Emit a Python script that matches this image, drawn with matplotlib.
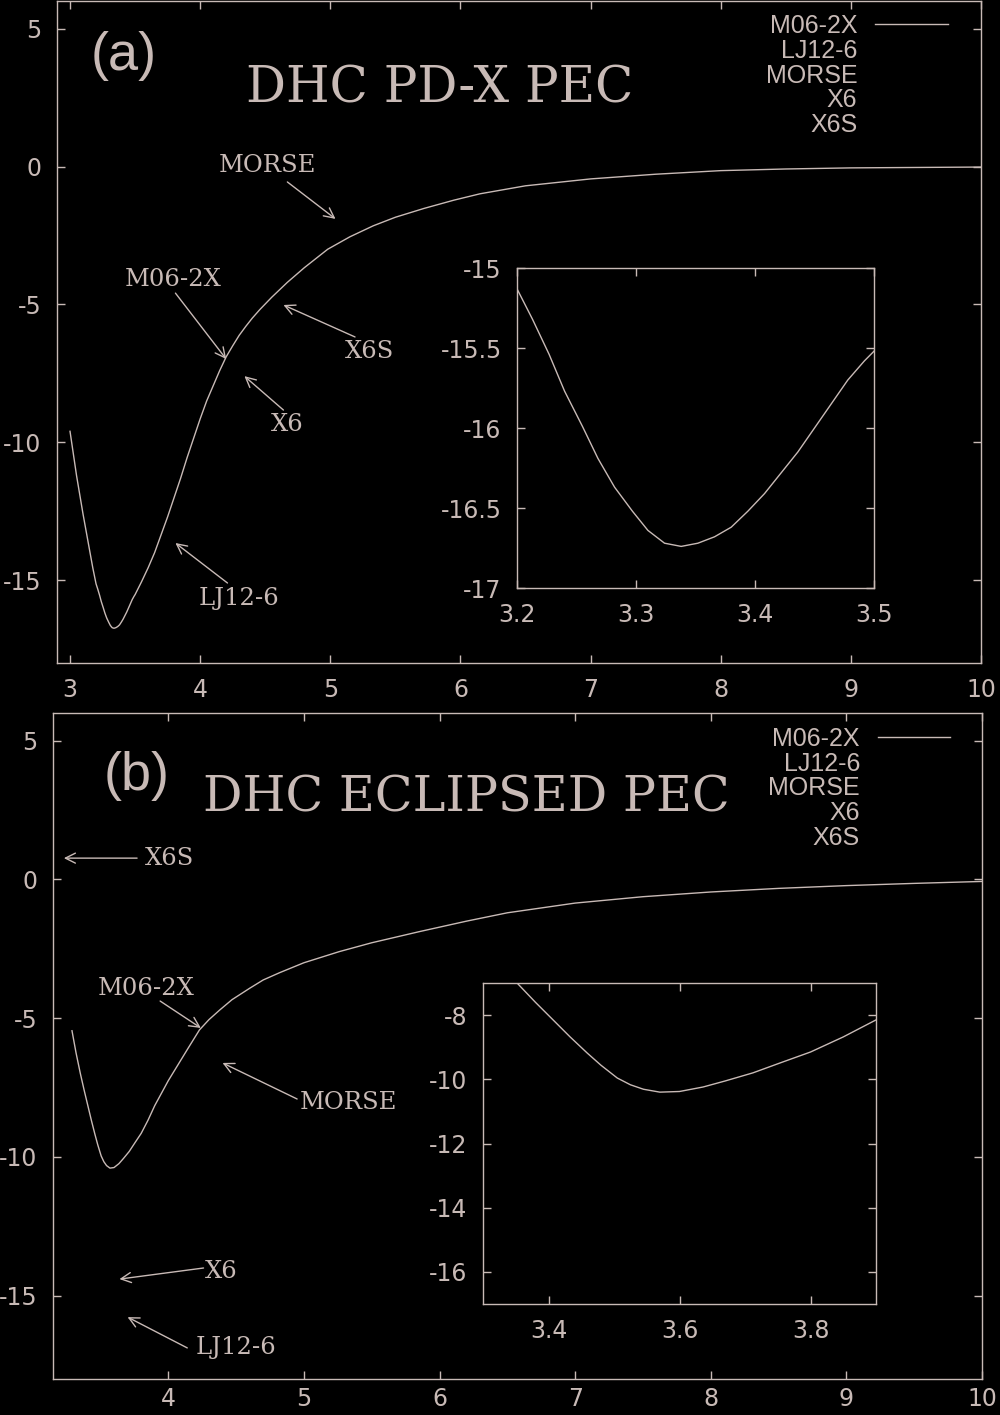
import numpy as np
import matplotlib
matplotlib.use('Agg')
import matplotlib.pyplot as plt
from matplotlib.ticker import FormatStrFormatter

plt.rcParams['font.family'] = ['Liberation Sans', 'DejaVu Sans']

FG = '#c8bab6'

#legend entries, only the first one shows a visible line
models = ['M06-2X', 'LJ12-6', 'MORSE', 'X6', 'X6S']

#panel (a): DHC PD-X, M06-2X curve
r_pdx = [3.0, 3.05, 3.1, 3.15, 3.175, 3.2, 3.213, 3.227, 3.24, 3.255, 3.268,
         3.282, 3.297, 3.31, 3.324, 3.338, 3.352, 3.366, 3.38, 3.394, 3.408,
         3.422, 3.436, 3.45, 3.464, 3.478, 3.492, 3.5, 3.55, 3.6, 3.65, 3.7,
         3.75, 3.8, 3.85, 3.9, 3.95, 4.0, 4.05, 4.1, 4.15, 4.2, 4.25, 4.3,
         4.35, 4.4, 4.46, 4.55, 4.67, 4.8, 4.98, 5.15, 5.33, 5.5, 5.72, 5.95,
         6.15, 6.5, 7.0, 7.5, 8.0, 8.5, 9.0, 10.0]
e_pdx = [-9.6, -11.2, -12.6, -13.9, -14.55, -15.13, -15.32, -15.54, -15.77,
         -15.99, -16.19, -16.37, -16.52, -16.64, -16.72, -16.74, -16.72,
         -16.68, -16.62, -16.52, -16.41, -16.28, -16.15, -16.0, -15.85,
         -15.70, -15.58, -15.52, -15.05, -14.55, -14.0, -13.35, -12.7, -12.0,
         -11.3, -10.55, -9.85, -9.15, -8.5, -7.95, -7.4, -6.9, -6.5, -6.12,
         -5.8, -5.5, -5.18, -4.74, -4.2, -3.67, -3.0, -2.55, -2.15, -1.84,
         -1.52, -1.22, -0.99, -0.7, -0.45, -0.28, -0.15, -0.09, -0.05, -0.02]

#panel (b): DHC ECLIPSED
r_ecl = [3.29, 3.32, 3.352, 3.38, 3.407, 3.433, 3.459, 3.48, 3.505, 3.525,
         3.545, 3.57, 3.6, 3.636, 3.67, 3.712, 3.755, 3.8, 3.85, 3.9, 3.95,
         4.0, 4.05, 4.1, 4.15, 4.23, 4.3, 4.38, 4.47, 4.6, 4.7, 4.82, 5.0,
         5.26, 5.5, 5.85, 6.2, 6.5, 7.0, 7.5, 8.0, 8.5, 9.0, 9.5, 10.0]
e_ecl = [-5.45, -6.25, -7.0, -7.6, -8.15, -8.68, -9.18, -9.56, -9.96, -10.17,
         -10.31, -10.4, -10.38, -10.24, -10.05, -9.8, -9.48, -9.15, -8.68,
         -8.15, -7.7, -7.25, -6.85, -6.45, -6.05, -5.42, -5.05, -4.7, -4.33,
         -3.92, -3.62, -3.36, -3.0, -2.6, -2.28, -1.88, -1.5, -1.2, -0.85,
         -0.62, -0.45, -0.32, -0.22, -0.14, -0.07]

main_yticks = [5, 0, -5, -10, -15]
xt_pdx = [3, 4, 5, 6, 7, 8, 9, 10]
xt_ecl = [4, 5, 6, 7, 8, 9, 10]
ins_a_xt = [3.2, 3.3, 3.4, 3.5]
ins_a_yt = [-17, -16.5, -16, -15.5, -15]
ins_b_xt = [3.4, 3.6, 3.8]
ins_b_yt = [-16, -14, -12, -10, -8]


def style(ax, xt, yt, xpad=11):
	ax.set_facecolor('black')
	for s in ax.spines.values():
		s.set_color(FG)
		s.set_linewidth(1.0)
	ax.tick_params(direction='in', length=6, width=1.0, color=FG,
	               labelcolor=FG, labelsize=17, top=True, right=True, pad=11)
	ax.tick_params(axis='x', pad=xpad)
	ax.set_xticks(xt)
	ax.set_yticks(yt)
	ax.xaxis.set_major_formatter(FormatStrFormatter('%g'))
	ax.yaxis.set_major_formatter(FormatStrFormatter('%g'))
	for lab in ax.get_xticklabels() + ax.get_yticklabels():
		lab.set_family('DejaVu Sans')


def arrow(ax, start, tip):
	ax.annotate('', xy=tip, xytext=start,
	            arrowprops=dict(arrowstyle='->', color=FG, lw=1.0,
	                            mutation_scale=18, shrinkA=0, shrinkB=0))


def note(ax, x, y, s):
	ax.text(x, y, s, color=FG, family='DejaVu Serif', fontsize=17.5,
	        ha='center', va='center')


W, H = 1000, 1415
fig = plt.figure(figsize=(W / 100, H / 100), dpi=100, facecolor='black')


def box(l, r, t, b):
	return [l / W, 1 - b / H, (r - l) / W, (b - t) / H]


ax1 = fig.add_axes(box(57, 981, 1, 663))
ax2 = fig.add_axes(box(53, 982, 713, 1379))
in1 = fig.add_axes(box(517, 874, 268, 588))
in2 = fig.add_axes(box(483, 876, 983, 1304))

for ax, r, e in [(ax1, r_pdx, e_pdx), (ax2, r_ecl, e_ecl)]:
	ax.plot(r, e, color=FG, lw=1.0, label=models[0])
	for m in models[1:]:
		ax.plot([], [], color='none', label=m)
	ax.set_ylim(-18, 6)

ax1.set_xlim(2.9, 10)
ax2.set_xlim(3.15, 10)
style(ax1, xt_pdx, main_yticks)
style(ax2, xt_ecl, main_yticks, xpad=6)

for ax, anchor in [(ax1, (0.964, 0.98)), (ax2, (0.966, 0.979))]:
	leg = ax.legend(loc='upper right', bbox_to_anchor=anchor, frameon=False,
	                markerfirst=False, alignment='right', fontsize=18,
	                handlelength=2.9, handletextpad=0.72, labelspacing=0.03,
	                borderpad=0, borderaxespad=0)
	for t in leg.get_texts():
		t.set_color(FG)

in1.plot(r_pdx, e_pdx, color=FG, lw=1.0)
in1.set_xlim(3.2, 3.5)
in1.set_ylim(-17, -15)
style(in1, ins_a_xt, ins_a_yt)

in2.plot(r_ecl, e_ecl, color=FG, lw=1.0)
in2.set_xlim(3.3, 3.9)
in2.set_ylim(-17, -7)
style(in2, ins_b_xt, ins_b_yt)

#panel labels and titles
ax1.text(3.41, 4.0, '(a)', color=FG, fontsize=39, ha='center', va='center')
ax1.text(5.84, 2.8, 'DHC PD-X PEC', color=FG, family='DejaVu Serif',
         fontsize=36, ha='center', va='center')
ax2.text(3.77, 3.73, '(b)', color=FG, fontsize=39, ha='center', va='center')
ax2.text(6.20, 2.95, 'DHC ECLIPSED PEC', color=FG, family='DejaVu Serif',
         fontsize=35.5, ha='center', va='center')

#arrows pointing at the curves, panel (a)
note(ax1, 4.52, 0.05, 'MORSE')
arrow(ax1, (4.67, -0.56), (5.04, -1.90))
note(ax1, 3.79, -4.08, 'M06-2X')
arrow(ax1, (3.81, -4.59), (4.20, -6.98))
note(ax1, 5.30, -6.69, 'X6S')
arrow(ax1, (5.19, -6.18), (4.64, -5.02))
note(ax1, 4.67, -9.37, 'X6')
arrow(ax1, (4.64, -8.83), (4.34, -7.60))
note(ax1, 4.30, -15.65, 'LJ12-6')
arrow(ax1, (4.21, -15.10), (3.81, -13.65))

#panel (b)
note(ax2, 4.01, 0.77, 'X6S')
arrow(ax2, (3.77, 0.77), (3.23, 0.77))
note(ax2, 3.84, -3.91, 'M06-2X')
arrow(ax2, (3.94, -4.38), (4.24, -5.35))
note(ax2, 5.33, -8.02, 'MORSE')
arrow(ax2, (4.95, -7.91), (4.40, -6.61))
note(ax2, 4.39, -14.11, 'X6')
arrow(ax2, (4.26, -14.0), (3.64, -14.40))
note(ax2, 4.50, -16.85, 'LJ12-6')
arrow(ax2, (4.14, -16.88), (3.70, -15.77))

fig.savefig('out.png', dpi=100, facecolor='black')
